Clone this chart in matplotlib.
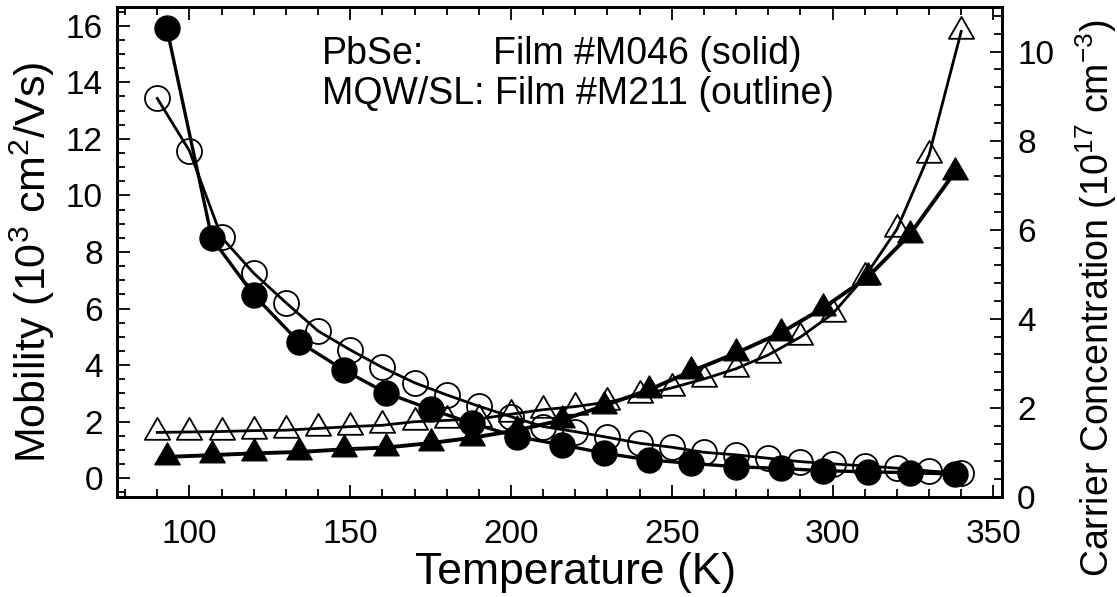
import numpy as np
import matplotlib
matplotlib.use("Agg")
import matplotlib.pyplot as plt
from matplotlib.path import Path
from matplotlib.ticker import MultipleLocator

plt.rcParams['font.family'] = ['Liberation Sans', 'DejaVu Sans']
plt.rcParams['mathtext.default'] = 'regular'

# PbSe film #M046 (solid markers)
temp_solid = [93, 107, 120, 134, 148, 161, 175, 188, 202, 216, 229, 243,
              256, 270, 284, 297, 311, 324, 338]
mob_solid = [15.9, 8.48, 6.48, 4.83, 3.83, 3.03, 2.44, 1.94, 1.47, 1.18, 0.89,
             0.65, 0.53, 0.41, 0.35, 0.27, 0.23, 0.20, 0.15]
conc_solid = [0.90, 0.94, 0.98, 1.01, 1.07, 1.11, 1.21, 1.33, 1.50, 1.73, 2.05,
              2.41, 2.82, 3.23, 3.69, 4.24, 4.94, 5.89, 7.29]

# MQW/SL film #M211 (outline markers)
temp_open = [90, 100, 110, 120, 130, 140, 150, 160, 170, 180, 190, 200, 210,
             220, 230, 240, 250, 260, 270, 280, 290, 300, 310, 320, 330, 340]
mob_open = [13.43, 11.58, 8.52, 7.25, 6.21, 5.21, 4.54, 3.92, 3.38, 2.95, 2.55,
            2.18, 1.83, 1.65, 1.45, 1.24, 1.10, 0.92, 0.83, 0.71, 0.59, 0.51,
            0.44, 0.36, 0.26, 0.18]
conc_open = [1.45, 1.46, 1.47, 1.49, 1.50, 1.54, 1.58, 1.61, 1.69, 1.72, 1.75,
             1.86, 1.96, 2.03, 2.13, 2.28, 2.45, 2.65, 2.88, 3.19, 3.59, 4.11,
             4.94, 6.01, 7.68, 10.45]

# equilateral triangle centred on its centroid
tri = Path.unit_regular_polygon(3)

fig = plt.figure(figsize=(11.17, 5.97), dpi=100)
ax = fig.add_axes([0.1045, 0.1675, 0.7923, 0.8208])
ax2 = ax.twinx()

ax.plot(temp_open, mob_open, '-', color='k', lw=2.0, marker='o', ms=18,
        mfc='none', mec='k', mew=1.3, zorder=2)
ax.plot(temp_solid, mob_solid, '-', color='k', lw=2.4, marker='o', ms=18,
        mfc='k', mec='k', zorder=3)
ax2.plot(temp_open, conc_open, '-', color='k', lw=2.0, marker=tri, ms=21,
         mfc='none', mec='k', mew=1.3, zorder=2)
ax2.plot(temp_solid, conc_solid, '-', color='k', lw=2.8, marker=tri, ms=21,
         mfc='k', mec='k', zorder=3)

ax.set_xlim(77.4, 352.6)
ax.set_ylim(-0.66, 16.66)
ax2.set_ylim(0, 11.0)

ax.xaxis.set_major_locator(MultipleLocator(50))
ax.xaxis.set_minor_locator(MultipleLocator(10))
ax.yaxis.set_major_locator(MultipleLocator(2))
ax.yaxis.set_minor_locator(MultipleLocator(0.5))
ax2.yaxis.set_major_locator(MultipleLocator(2))
ax2.yaxis.set_minor_locator(MultipleLocator(0.4))

ax.tick_params(axis='x', which='both', direction='in', top=True,
               labelsize=24, pad=16)
ax.tick_params(axis='y', which='both', direction='in', right=False,
               labelsize=24, pad=10)
ax2.tick_params(axis='y', which='both', direction='in', labelsize=24, pad=11)
for a in (ax, ax2):
    a.tick_params(which='major', length=9, width=1.3)
    a.tick_params(which='minor', length=6, width=1.3)
    for s in a.spines.values():
        s.set_linewidth(2.0)

ax.set_xlabel('Temperature (K)', fontsize=32, labelpad=1)
ax.xaxis.label.set_x(0.518)
ax.set_ylabel('Mobility (10$^3$ cm$^2$/Vs)', fontsize=31, labelpad=6)
ax.yaxis.label.set_y(0.48)
ax2.set_ylabel('Carrier Concentration (10$^{17}$ cm$^{-3}$)', fontsize=27)
ax2.yaxis.set_label_coords((1073 - 116.7) / 885.0, 0.406)

ax.text(141.2, 14.65, 'PbSe:', fontsize=27, va='baseline')
ax.text(194.4, 14.65, 'Film #M046 (solid)', fontsize=27, va='baseline')
ax.text(141.2, 13.23, 'MQW/SL: Film #M211 (outline)', fontsize=27,
        va='baseline')

fig.savefig('out.png', dpi=100)
